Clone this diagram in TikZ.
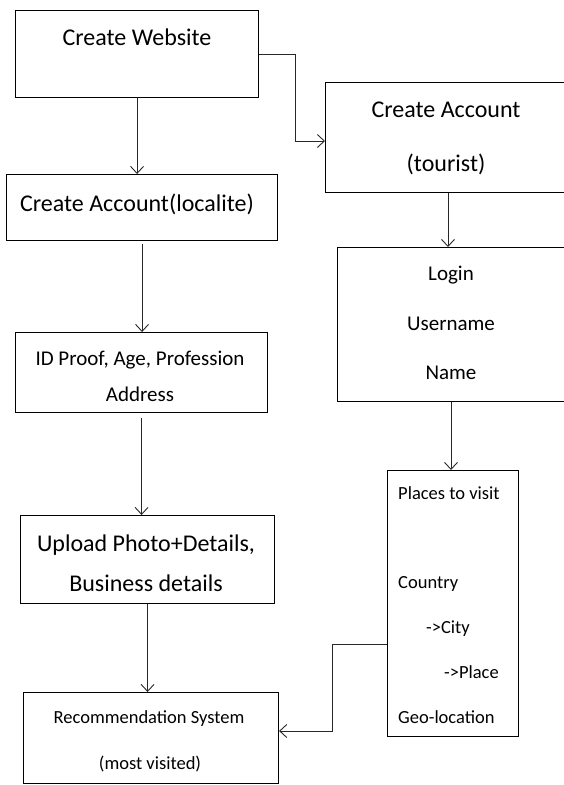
\documentclass[tikz,border=0pt]{standalone}
\usepackage{fontspec}
\setmainfont{Carlito}
\usetikzlibrary{arrows.meta}
\definecolor{lnc}{RGB}{40,40,40}
\tikzset{
  box/.style={draw=black, line width=1.1pt, rectangle, inner sep=0pt, anchor=north west},
  arr/.style={draw=lnc, line width=0.9pt, -{Straight Barb[length=7pt,width=13pt]}},
  big/.style={font=\fontsize{24}{28}\selectfont, inner sep=0pt, anchor=base},
  mid/.style={font=\fontsize{21}{25}\selectfont, inner sep=0pt, anchor=base},
  small/.style={font=\fontsize{18.5}{22}\selectfont, inner sep=0pt, anchor=base},
  smallL/.style={font=\fontsize{18.5}{22}\selectfont, inner sep=0pt, anchor=base west},
}
\begin{document}
\begin{tikzpicture}[x=1pt,y=-1pt]
\useasboundingbox (0,0) rectangle (564,785);
\fill[white] (0,0) rectangle (564,785);
\clip (0,0) rectangle (564,785);

% boxes
\node[box, minimum width=243pt, minimum height=87pt] (web) at (15,10) {};
\node[box, minimum width=271pt, minimum height=66pt] (loc) at (6,174) {};
\node[box, minimum width=245pt, minimum height=110pt] (tour) at (325,82) {};
\node[box, minimum width=233pt, minimum height=154pt] (login) at (337,247) {};
\node[box, minimum width=252pt, minimum height=80pt] (idp) at (15,332) {};
\node[box, minimum width=254pt, minimum height=88pt] (up) at (20,515) {};
\node[box, minimum width=255pt, minimum height=91pt] (rec) at (23,692) {};
\node[box, minimum width=131pt, minimum height=266pt] (places) at (387,470) {};

% texts
\node[big] (t1) at (137,45) {Create Website};
\node[big] (t2) at (137,211) {Create Account(localite)};
\node[big] (t3) at (446,117) {Create Account};
\node[big] (t4) at (446,171) {(tourist)};
\node[mid] (t5) at (451,280) {Login};
\node[mid] (t6) at (451,330) {Username};
\node[mid] (t7) at (451,379) {Name};
\node[mid] (t8) at (140,365) {ID Proof, Age, Profession};
\node[mid] (t9) at (140,401) {Address};
\node[big] (t10) at (146,551) {Upload Photo+Details,};
\node[big] (t11) at (146,591) {Business details};
\node[small] (t12) at (149,723) {Recommendation System};
\node[small] (t13) at (150,769) {(most visited)};
\node[smallL] (t14) at (398,499) {Places to visit};
\node[smallL] (t15) at (398,588) {Country};
\node[smallL] (t16) at (426,633) {->City};
\node[smallL] (t17) at (444,678) {->Place};
\node[smallL] (t18) at (398,723) {Geo-location};

% connectors
\draw[arr] (web.south) -- (web.south |- loc.north);
\draw[arr] (web.east) -- ++(36,0) |- (tour.west |- 0,141);
\draw[arr, shorten <=3pt] (loc.south) -- (loc.south |- idp.north);
\draw[arr, shorten <=5pt] (idp.south) -- (idp.south |- up.north);
\draw[arr] (up.south) -- (up.south |- rec.north);
\draw[arr] (tour.south -| 448,0) -- (login.north -| 448,0);
\draw[arr] (login.south -| 451,0) -- (places.north -| 451,0);
\draw[arr] (places.west |- 0,644) -| (332,731) -- (rec.east |- 0,731);
\end{tikzpicture}
\end{document}
